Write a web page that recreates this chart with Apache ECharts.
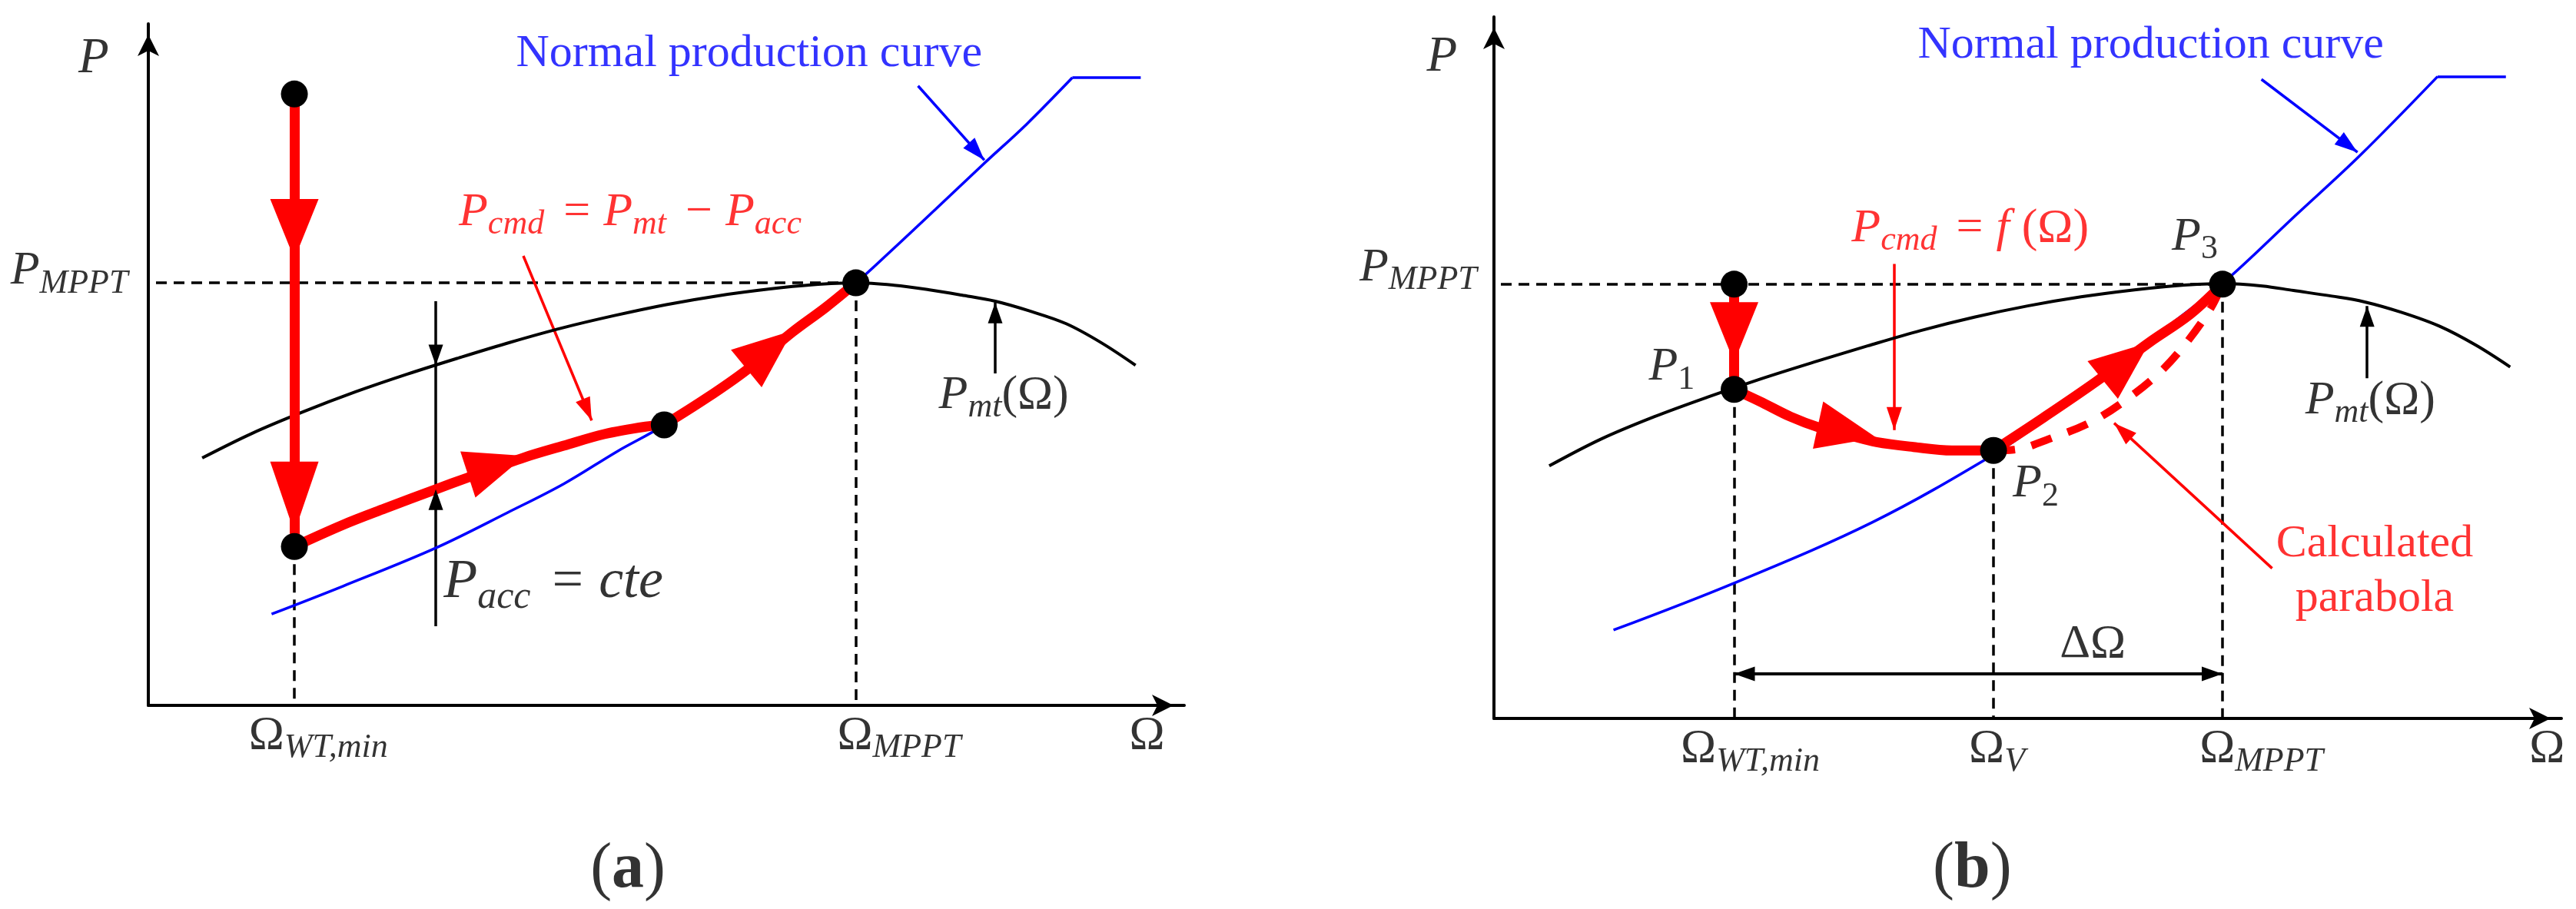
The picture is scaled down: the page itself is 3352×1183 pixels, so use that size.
<!DOCTYPE html>
<html>
<head>
<meta charset="utf-8">
<title>Pcmd strategies</title>
<script src="https://cdn.jsdelivr.net/npm/echarts@6.0.0/dist/echarts.min.js"></script>
<style>
  html, body { margin: 0; background: #fff; }
  #chart { width: 3352px; height: 1183px; }
</style>
</head>
<body>
<div id="chart"></div>
<script>
const FONT = "'Liberation Serif', 'Times New Roman', serif";
const RED = '#ff0000';
const BLUE = '#0000ff';

// Both panels use axes that run 0..100 (arbitrary units) in x and y.

// ---------- panel (a) ----------
const pmtA = [[5.2, 36.3], [10, 39.9], [15, 43.1], [20, 46.0], [25, 48.6], [30, 51.0], [35, 53.3], [40, 55.4], [45, 57.2], [50, 58.8], [55, 60.1], [60, 61.1], [64, 61.7], [68.3, 62.0], [72, 61.65], [75.3, 61.0], [78.5, 60.2], [81.75, 59.3], [85, 57.9], [88.6, 56.0], [92, 53.2], [95.3, 49.9]];
const normalA = [[11.9, 13.4], [18.8, 17.5], [27.75, 23.1], [34.7, 28.3], [40.1, 32.5], [45.3, 37.3], [49.8, 41.15], [59.1, 51.1], [68.3, 62.0], [71.5, 66.4], [76.0, 72.8], [80.6, 79.4], [84.8, 85.3], [89.2, 92.1]];
const normalFlatA = [[89.2, 92.1], [95.8, 92.1]];
const cmdA1 = [[14.1, 23.3], [18.8, 26.5], [22.85, 28.9], [27.75, 31.7], [30.8, 33.4], [36.35, 36.4], [40.1, 38.1], [44.0, 39.8], [48.0, 40.9], [49.8, 41.15]];
const cmdA2 = [[49.8, 41.15], [53.9, 45.1], [57.7, 49.15], [62.2, 54.8], [65.4, 58.4], [68.3, 62.0]];
const dropA = [[[14.1, 89.7], [14.1, 23.3]]];
const dotsA = [[14.1, 89.7], [14.1, 23.3], [49.8, 41.15], [68.3, 62.0]];
const guidesA = [[[0.74, 62.0], [68.3, 62.0]], [[14.1, 23.3], [14.1, 0]], [[68.3, 62.0], [68.3, 0]]];
const pointersBlackA = [[[27.75, 59.3], [27.75, 11.6]], [[81.75, 48.7], [81.75, 59.1]]];
const pointersRedA = [[[36.2, 65.95], [42.8, 41.8]]];
const pointersBlueA = [[[74.3, 90.9], [80.7, 80.0]]];
// arrow heads: [tipX, tipY, fromX, fromY]
const headsRedA = [[14.1, 65.5, 14.1, 89.7], [36.35, 36.6, 30.7, 33.8], [62.2, 55.0, 57.7, 49.4]];
const headsRedLongA = [[14.1, 25.4, 14.1, 50]];
const headsBlackA = [[27.75, 49.9, 27.75, 59.3], [27.75, 31.7, 27.75, 11.6], [81.75, 59.1, 81.75, 48.7]];
const headsPtrRedA = [[42.8, 41.8, 36.2, 65.95]];
const headsPtrBlueA = [[80.7, 80.0, 74.3, 90.9]];
// texts: [x, y, rich text]
const textBlackA = [
  [-6.75, 94.8, '{axp|P}'],
  [-13.3, 63.7, '{it|P}{sub|MPPT}'],
  [28.5, 18.0, '{bit|P}{bsub|acc}{bop|=}{bit|cte}'],
  [76.3, 45.5, '{it|P}{sub|mt}{up|(Ω)}'],
  [9.7, -4.5, '{up|Ω}{sub|WT,min}'],
  [66.5, -4.5, '{up|Ω}{sub|MPPT}'],
  [94.7, -4.5, '{up|Ω}']
];
const textRedA = [[29.97, 72.3, '{it|P}{sub|cmd}{op|=}{it|P}{sub|mt}{op|−}{it|P}{sub|acc}']];
const textBlueA = [[35.5, 95.6, 'Normal production curve']];
const captionA = [[46.3, -24.2, '{par|(}{bold|a}{par|)}']];

// ---------- panel (b) ----------
const pmtB = [[5.18, 36.0], [10, 39.8], [15, 43.0], [20, 45.8], [25, 48.4], [30, 50.8], [35, 53.1], [40, 55.3], [45, 57.2], [50, 58.8], [55, 60.1], [60, 61.1], [64, 61.7], [68.25, 62.0], [72, 61.65], [74.9, 61.0], [78.5, 60.2], [81.5, 59.4], [85, 57.9], [88.6, 55.9], [92, 53.2], [95.2, 50.1]];
const normalB = [[11.2, 12.6], [22.5, 19.3], [35.5, 28.0], [46.8, 37.6], [51.5, 42.5], [56.4, 48.0], [61.6, 54.1], [68.25, 62.0], [75.2, 71.85], [81.1, 80.2], [88.4, 91.5]];
const normalFlatB = [[88.4, 91.5], [94.8, 91.5]];
const cmdB1 = [[22.5, 46.9], [24.9, 45.2], [27.8, 43.0], [30.4, 41.5], [33.2, 40.4], [35.85, 39.4], [39.3, 38.7], [42.9, 38.2], [46.8, 38.2]];
const cmdB2 = [[46.8, 38.2], [51.5, 42.9], [56.4, 48.0], [61.4, 53.6], [65.2, 57.6], [68.25, 61.9]];
const parabolaB = [[46.8, 38.2], [48.7, 38.3], [52.3, 40.0], [56.0, 42.3], [59.3, 45.5], [62.5, 49.5], [65.1, 54.0], [67.2, 58.6], [68.25, 61.9]];
const dropB = [[[22.5, 61.9], [22.5, 46.9]]];
const dotsB = [[22.5, 61.9], [22.5, 46.9], [46.8, 38.2], [68.25, 61.9]];
const guidesB = [[[0.65, 61.9], [68.25, 61.9]], [[22.5, 46.9], [22.5, 0]], [[46.8, 38.2], [46.8, 0]], [[68.25, 61.9], [68.25, 0]]];
const spanB = [[[22.5, 6.35], [68.25, 6.35]]];
const pointersBlackB = [[[81.8, 48.5], [81.8, 58.8]]];
const pointersRedB = [[[37.5, 64.8], [37.5, 41.1]], [[72.9, 21.4], [58.1, 42.1]]];
const pointersBlueB = [[[71.9, 91.1], [80.9, 80.7]]];
const headsRedB = [[22.5, 50.8, 22.5, 61.9], [35.85, 40.0, 30.4, 41.8], [61.4, 53.6, 57.0, 48.2]];
const headsBlackB = [[81.8, 58.8, 81.8, 48.5], [22.5, 6.35, 30, 6.35], [68.25, 6.35, 60, 6.35]];
const headsPtrRedB = [[37.5, 41.1, 37.5, 64.8], [58.1, 42.1, 72.9, 21.4]];
const headsPtrBlueB = [[80.9, 80.7, 71.9, 91.1]];
const textBlackB = [
  [-6.3, 94.2, '{axp|P}'],
  [-12.6, 64.2, '{it|P}{sub|MPPT}'],
  [14.5, 50.05, '{it|P}{subu|1}'],
  [48.6, 33.4, '{it|P}{subu|2}'],
  [63.5, 68.6, '{it|P}{subu|3}'],
  [76.0, 45.3, '{it|P}{sub|mt}{up|(Ω)}'],
  [53.0, 10.6, '{up|ΔΩ}'],
  [17.5, -4.4, '{up|Ω}{sub|WT,min}'],
  [44.5, -4.4, '{up|Ω}{sub|V}'],
  [66.1, -4.4, '{up|Ω}{sub|MPPT}'],
  [97.0, -4.4, '{up|Ω}']
];
const textRedB = [[33.5, 69.8, '{it|P}{sub|cmd}{op|=}{itf|f}{up|(Ω)}']];
const textRedCenterB = [[82.5, 20.9, 'Calculated\nparabola']];
const textBlueB = [[39.7, 95.9, 'Normal production curve']];
const captionB = [[44.8, -21.6, '{par|(}{bold|b}{par|)}']];

function rich(c) {
  const base = { fontFamily: FONT, color: c, verticalAlign: 'middle', lineHeight: 90 };
  return {
    axp: { ...base, fontSize: 65, fontStyle: 'italic' },
    it: { ...base, fontSize: 62, fontStyle: 'italic' },
    itf: { ...base, fontSize: 62, fontStyle: 'italic', padding: [0, 16, 0, 0] },
    sub: { ...base, fontSize: 44, fontStyle: 'italic', padding: [32, 0, 0, 0] },
    subu: { ...base, fontSize: 44, padding: [32, 0, 0, 0] },
    up: { ...base, fontSize: 62 },
    op: { ...base, fontSize: 62, padding: [0, 17, 0, 25] },
    bit: { ...base, fontSize: 72, fontStyle: 'italic' },
    bsub: { ...base, fontSize: 50, fontStyle: 'italic', padding: [39, 0, 0, 0] },
    bop: { ...base, fontSize: 72, padding: [0, 20, 0, 28] },
    par: { ...base, fontSize: 84 },
    bold: { ...base, fontSize: 84, fontWeight: 'bold' }
  };
}

function curve(xi, data, color, width, dash, z) {
  return {
    type: 'line', xAxisIndex: xi, yAxisIndex: xi, data, smooth: 0.35,
    symbol: 'none', silent: true, z: z || 2,
    lineStyle: { color, width, type: dash || 'solid', cap: 'butt' }
  };
}

function segs(xi, list, color, width, dash, z) {
  return {
    type: 'lines', coordinateSystem: 'cartesian2d', xAxisIndex: xi, yAxisIndex: xi,
    silent: true, z: z || 2,
    data: list.map(c => ({ coords: c })),
    lineStyle: { color, width, type: dash || 'solid', opacity: 1, cap: 'butt' }
  };
}

function heads(xi, list, color, len, wid) {
  return {
    type: 'custom', xAxisIndex: xi, yAxisIndex: xi, data: list, silent: true, z: 4,
    renderItem(params, api) {
      const tip = api.coord([api.value(0), api.value(1)]);
      const from = api.coord([api.value(2), api.value(3)]);
      const dx = tip[0] - from[0], dy = tip[1] - from[1];
      const d = Math.hypot(dx, dy) || 1;
      const ux = dx / d, uy = dy / d;
      const bx = tip[0] - ux * len, by = tip[1] - uy * len;
      return {
        type: 'polygon',
        shape: { points: [tip, [bx - uy * wid / 2, by + ux * wid / 2], [bx + uy * wid / 2, by - ux * wid / 2]] },
        style: { fill: color }
      };
    }
  };
}

function dots(xi, list) {
  return {
    type: 'scatter', xAxisIndex: xi, yAxisIndex: xi, data: list, silent: true, z: 5,
    symbol: 'circle', symbolSize: 35, itemStyle: { color: '#000', opacity: 1 }
  };
}

function texts(xi, list, color, align, size) {
  return {
    type: 'scatter', xAxisIndex: xi, yAxisIndex: xi, clip: false, silent: true, z: 6,
    symbolSize: 1, itemStyle: { color: 'rgba(0,0,0,0)' },
    data: list.map(t => ({ name: t[2], value: [t[0], t[1]] })),
    label: {
      show: true, position: 'inside', align, verticalAlign: 'middle',
      formatter: p => p.name, color, fontFamily: FONT, fontSize: size || 60, lineHeight: 71,
      rich: rich(color)
    }
  };
}

function axisPair(grid) {
  const line = {
    show: true, onZero: false, symbol: ['none', 'arrow'], symbolSize: [21, 28], symbolOffset: [0, -14],
    lineStyle: { color: '#000', width: 4 }
  };
  const common = { gridIndex: grid, type: 'value', min: 0, max: 100, axisLine: line,
    axisTick: { show: false }, axisLabel: { show: false }, splitLine: { show: false } };
  return [{ ...common }, { ...common }];
}

const [xa, ya] = axisPair(0);
const [xb, yb] = axisPair(1);

const chart = echarts.init(document.getElementById('chart'), null, { renderer: 'canvas' });
chart.setOption({
  animation: false,
  backgroundColor: '#fff',
  grid: [
    { left: 193, top: 31, width: 1348, height: 887, outerBoundsMode: 'none' },
    { left: 1944, top: 22, width: 1389, height: 913, outerBoundsMode: 'none' }
  ],
  xAxis: [xa, xb],
  yAxis: [ya, yb],
  series: [
    // panel (a)
    segs(0, guidesA, '#000', 3.5, [14, 9], 1),
    curve(0, pmtA, '#000', 4),
    curve(0, normalA, BLUE, 3.5),
    segs(0, [normalFlatA], BLUE, 3.5),
    segs(0, pointersBlackA, '#000', 3.5),
    segs(0, pointersRedA, RED, 3.5),
    segs(0, pointersBlueA, BLUE, 3.5),
    segs(0, dropA, RED, 13, 'solid', 3),
    curve(0, cmdA1, RED, 13, 'solid', 3),
    curve(0, cmdA2, RED, 13, 'solid', 3),
    heads(0, headsRedA, RED, 78, 63),
    heads(0, headsRedLongA, RED, 92, 63),
    heads(0, headsBlackA, '#000', 27, 19),
    heads(0, headsPtrRedA, RED, 30, 20),
    heads(0, headsPtrBlueA, BLUE, 30, 20),
    dots(0, dotsA),
    texts(0, textBlackA, '#000', 'left'),
    texts(0, textRedA, RED, 'left'),
    texts(0, textBlueA, BLUE, 'left', 60),
    texts(0, captionA, '#000', 'center'),
    // panel (b)
    segs(1, guidesB, '#000', 3.5, [14, 9], 1),
    curve(1, pmtB, '#000', 4),
    curve(1, normalB, BLUE, 3.5),
    segs(1, [normalFlatB], BLUE, 3.5),
    segs(1, spanB, '#000', 4),
    segs(1, pointersBlackB, '#000', 3.5),
    segs(1, pointersRedB, RED, 3.5),
    segs(1, pointersBlueB, BLUE, 3.5),
    curve(1, parabolaB, RED, 10, [28, 22], 3),
    segs(1, dropB, RED, 13, 'solid', 3),
    curve(1, cmdB1, RED, 13, 'solid', 3),
    curve(1, cmdB2, RED, 13, 'solid', 3),
    heads(1, headsRedB, RED, 78, 63),
    heads(1, headsBlackB, '#000', 27, 19),
    heads(1, headsPtrRedB, RED, 30, 20),
    heads(1, headsPtrBlueB, BLUE, 30, 20),
    dots(1, dotsB),
    texts(1, textBlackB, '#000', 'left'),
    texts(1, textRedB, RED, 'left'),
    texts(1, textRedCenterB, RED, 'center', 60),
    texts(1, textBlueB, BLUE, 'left', 60),
    texts(1, captionB, '#000', 'center')
  ]
});
</script>
</body>
</html>
